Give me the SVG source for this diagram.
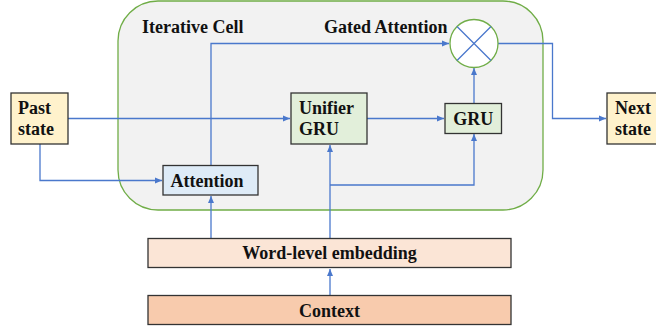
<svg xmlns="http://www.w3.org/2000/svg" width="656" height="332" viewBox="0 0 656 332">
<style>
text{font-family:"Liberation Serif","Times New Roman",serif;font-weight:bold;font-size:18px;fill:#111}
.box{stroke:#333;stroke-width:1.3}
.c{fill:none;stroke:#4a78cc;stroke-width:1.3}
</style>
<defs>
<marker id="ah" markerWidth="8" markerHeight="7" refX="7" refY="3.5" orient="auto" markerUnits="userSpaceOnUse">
<path d="M0,0.5 L7,3.5 L0,6.5 Z" fill="#4a78cc"/>
</marker>
</defs>
<g id="cell">
<rect x="118" y="1" width="425" height="209" rx="40" ry="40" fill="#f2f2f2" stroke="#70ad47" stroke-width="1.3"/>
<text x="142" y="33">Iterative Cell</text>
<text x="324" y="33">Gated Attention</text>
</g>
<g id="connectors">
<path class="c" d="M68,118.5 H290" marker-end="url(#ah)"/>
<path class="c" d="M40,144 V180.5 H162" marker-end="url(#ah)"/>
<path class="c" d="M211,165 V43.5 H449" marker-end="url(#ah)"/>
<path class="c" d="M498,43.5 H552.5 V118.5 H606" marker-end="url(#ah)"/>
<path class="c" d="M367,118.5 H444" marker-end="url(#ah)"/>
<path class="c" d="M474,103 V68" marker-end="url(#ah)"/>
<path class="c" d="M211,238 V196" marker-end="url(#ah)"/>
<path class="c" d="M330,238 V145" marker-end="url(#ah)"/>
<path class="c" d="M330,185 H474 V134" marker-end="url(#ah)"/>
<path class="c" d="M330,295 V269" marker-end="url(#ah)"/>
</g>
<g id="past-state">
<rect class="box" x="11" y="93" width="57" height="51" fill="#fff2cc"/>
<text x="18" y="114">Past</text>
<text x="18" y="135">state</text>
</g>
<g id="next-state">
<rect class="box" x="607" y="93" width="57" height="51" fill="#fff2cc"/>
<text x="615" y="114">Next</text>
<text x="615" y="135">state</text>
</g>
<g id="unifier-gru">
<rect class="box" x="291" y="93" width="76" height="51" fill="#e2efda"/>
<text x="299" y="114">Unifier</text>
<text x="299" y="135">GRU</text>
</g>
<g id="gru">
<rect class="box" x="445" y="103.5" width="56.5" height="30" fill="#e2efda"/>
<text x="473.3" y="125" text-anchor="middle">GRU</text>
</g>
<g id="gate">
<circle cx="474" cy="43.5" r="24" fill="#ffffff" stroke="#70ad47" stroke-width="1.3"/>
<path d="M457,26.5 L491,60.5 M491,26.5 L457,60.5" stroke="#4a78cc" stroke-width="1.3"/>
</g>
<g id="attention">
<rect class="box" x="163" y="165.5" width="95" height="29.5" fill="#deebf7"/>
<text x="207" y="187" text-anchor="middle">Attention</text>
</g>
<g id="word-embedding">
<rect class="box" x="148" y="238.5" width="363" height="29" fill="#fbe5d6"/>
<text x="329.5" y="258.5" text-anchor="middle">Word-level embedding</text>
</g>
<g id="context">
<rect class="box" x="148" y="295.5" width="363" height="29" fill="#f8cbad"/>
<text x="329.5" y="317" text-anchor="middle">Context</text>
</g>
</svg>
